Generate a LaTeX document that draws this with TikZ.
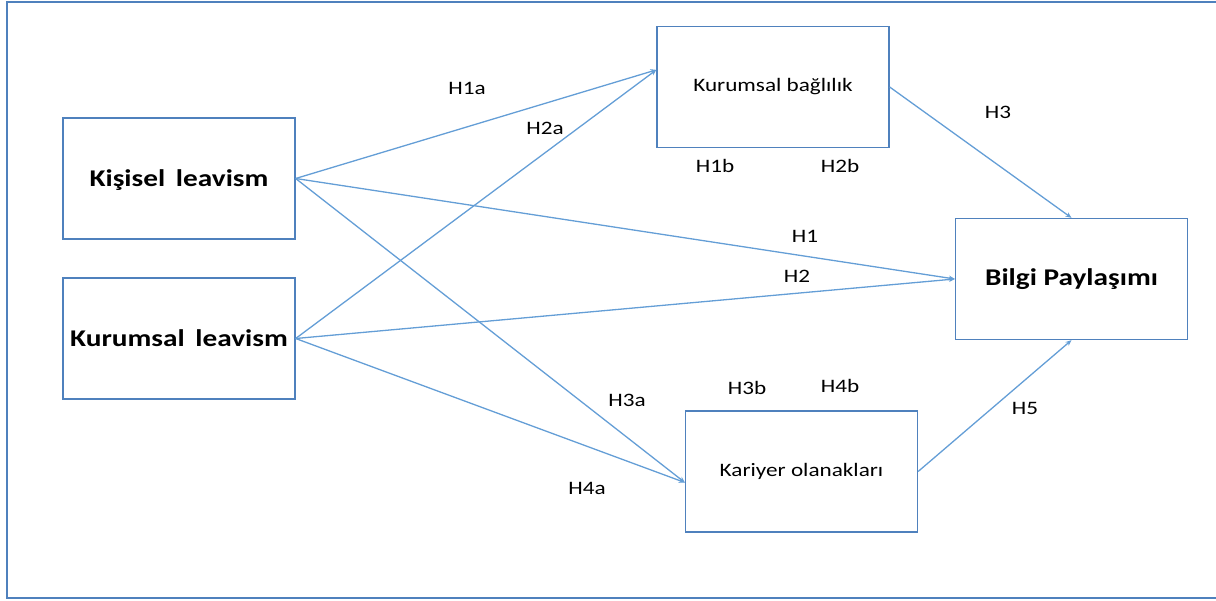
\documentclass[tikz,border=0pt]{standalone}
\usepackage{fontspec}
\setmainfont{Carlito}[FakeStretch=1.22]
\usetikzlibrary{arrows.meta,calc}

\definecolor{framecol}{RGB}{79,129,189}
\definecolor{linkcol}{RGB}{100,158,214}

\tikzset{
  box/.style={draw=framecol, line width=1.3pt, minimum width=232pt, minimum height=121pt, inner sep=0pt, font=\fontsize{19}{22}\selectfont},
  bigbox/.style={box, font=\fontsize{24}{28}\selectfont\bfseries},
  lbl/.style={inner sep=0pt, font=\fontsize{19}{22}\selectfont},
  link/.style={draw=linkcol, line width=1.3pt, -{Stealth[length=6pt,width=5pt]}}
}

\begin{document}
\begin{tikzpicture}[x=1pt,y=-1pt]
\useasboundingbox (0,0) rectangle (1216,601);
% outer frame
\draw[framecol, line width=2.5pt] (7,2) rectangle (1230,598);

% the boxes
\node[bigbox, text depth=-8pt] (kl) at (179,178.5) {Kişisel\, leavism};
\node[bigbox] (ul) at (179,338.5) {Kurumsal\, leavism};
\node[box] (kb) at (773,87) {Kurumsal bağlılık};
\node[bigbox] (bp) at (1071.5,279) {Bilgi Paylaşımı};
\node[box] (ko) at (801.5,471.5) {Kariyer olanakları};

% where the arrows go in
\coordinate (kbin) at ($(kb.south west)!0.64!(kb.north west)$);
\coordinate (koin) at ($(ko.south west)!0.41!(ko.north west)$);

% arrows
\draw[link] (kl.east) -- (kbin);
\draw[link] (kl.east) -- (bp.west);
\draw[link] (kl.east) -- (koin);
\draw[link] (ul.east) -- (kbin);
\draw[link] (ul.east) -- (bp.west);
\draw[link] (ul.east) -- (koin);
\draw[link] (kb.east) -- (bp.north);
\draw[link] (ko.east) -- (bp.south);

% hypothesis labels
\node[lbl] (h1a) at (467,88) {H1a};
\node[lbl] (h2a) at (545,128) {H2a};
\node[lbl] (h1b) at (715,166) {H1b};
\node[lbl] (h2b) at (840,166) {H2b};
\node[lbl] (h3) at (998,112) {H3};
\node[lbl] (h1) at (805,236) {H1};
\node[lbl] (h2) at (797,276) {H2};
\node[lbl] (h3a) at (627,400) {H3a};
\node[lbl] (h3b) at (747,388) {H3b};
\node[lbl] (h4b) at (840,386) {H4b};
\node[lbl] (h4a) at (587,488) {H4a};
\node[lbl] (h5) at (1025,408) {H5};
\end{tikzpicture}
\end{document}
